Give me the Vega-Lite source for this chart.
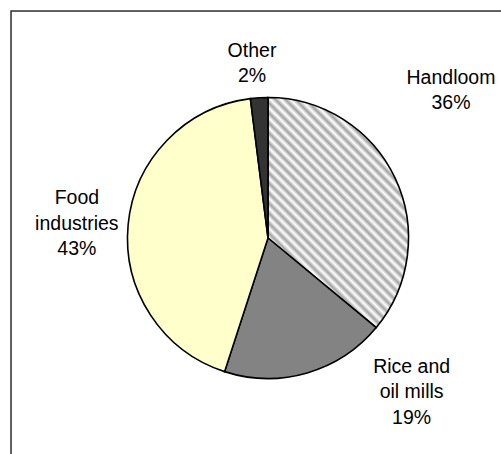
{
  "$schema": "https://vega.github.io/schema/vega-lite/v6.json",
  "width": 514,
  "height": 454,
  "autosize": "none",
  "padding": {"left": 11, "top": 11, "right": 0, "bottom": 0},
  "background": "white",
  "data": {
    "values": [
      {"name": "Handloom", "value": 36, "k": 1, "label": "Handloom\n36%"},
      {"name": "Rice and oil mills", "value": 19, "k": 2, "label": "Rice and\noil mills\n19%"},
      {"name": "Food industries", "value": 43, "k": 3, "label": "Food\nindustries\n43%"},
      {"name": "Other", "value": 2, "k": 4, "label": "Other\n2%"}
    ]
  },
  "layer": [
    {
      "data": {"values": [{"frame": 1}]},
      "mark": {"type": "rect", "fill": null, "stroke": "#333333", "strokeWidth": 1.5},
      "encoding": {
        "x": {"value": 0},
        "x2": {"value": "width"},
        "y": {"value": 0},
        "y2": {"value": "height"}
      }
    },
    {
      "encoding": {
        "theta": {"field": "value", "type": "quantitative", "stack": true},
        "order": {"field": "k", "type": "quantitative", "sort": "ascending"}
      },
      "layer": [
        {
          "mark": {"type": "arc", "outerRadius": 140.5, "stroke": "#000000", "strokeWidth": 1.6},
          "encoding": {
            "fill": {
              "condition": {
                "test": "datum.name === 'Handloom'",
                "value": {
                  "gradient": "linear", "x1": 0, "y1": 1, "x2": 0.718, "y2": -0.1726,
                  "stops": [
                    {"offset": 0, "color": "#ffffff"}, {"offset": 0.0135, "color": "#a2a2a2"},
                    {"offset": 0.027, "color": "#ffffff"}, {"offset": 0.0405, "color": "#a2a2a2"},
                    {"offset": 0.0541, "color": "#ffffff"}, {"offset": 0.0676, "color": "#a2a2a2"},
                    {"offset": 0.0811, "color": "#ffffff"}, {"offset": 0.0946, "color": "#a2a2a2"},
                    {"offset": 0.1081, "color": "#ffffff"}, {"offset": 0.1216, "color": "#a2a2a2"},
                    {"offset": 0.1351, "color": "#ffffff"}, {"offset": 0.1486, "color": "#a2a2a2"},
                    {"offset": 0.1622, "color": "#ffffff"}, {"offset": 0.1757, "color": "#a2a2a2"},
                    {"offset": 0.1892, "color": "#ffffff"}, {"offset": 0.2027, "color": "#a2a2a2"},
                    {"offset": 0.2162, "color": "#ffffff"}, {"offset": 0.2297, "color": "#a2a2a2"},
                    {"offset": 0.2432, "color": "#ffffff"}, {"offset": 0.2568, "color": "#a2a2a2"},
                    {"offset": 0.2703, "color": "#ffffff"}, {"offset": 0.2838, "color": "#a2a2a2"},
                    {"offset": 0.2973, "color": "#ffffff"}, {"offset": 0.3108, "color": "#a2a2a2"},
                    {"offset": 0.3243, "color": "#ffffff"}, {"offset": 0.3378, "color": "#a2a2a2"},
                    {"offset": 0.3514, "color": "#ffffff"}, {"offset": 0.3649, "color": "#a2a2a2"},
                    {"offset": 0.3784, "color": "#ffffff"}, {"offset": 0.3919, "color": "#a2a2a2"},
                    {"offset": 0.4054, "color": "#ffffff"}, {"offset": 0.4189, "color": "#a2a2a2"},
                    {"offset": 0.4324, "color": "#ffffff"}, {"offset": 0.4459, "color": "#a2a2a2"},
                    {"offset": 0.4595, "color": "#ffffff"}, {"offset": 0.473, "color": "#a2a2a2"},
                    {"offset": 0.4865, "color": "#ffffff"}, {"offset": 0.5, "color": "#a2a2a2"},
                    {"offset": 0.5135, "color": "#ffffff"}, {"offset": 0.527, "color": "#a2a2a2"},
                    {"offset": 0.5405, "color": "#ffffff"}, {"offset": 0.5541, "color": "#a2a2a2"},
                    {"offset": 0.5676, "color": "#ffffff"}, {"offset": 0.5811, "color": "#a2a2a2"},
                    {"offset": 0.5946, "color": "#ffffff"}, {"offset": 0.6081, "color": "#a2a2a2"},
                    {"offset": 0.6216, "color": "#ffffff"}, {"offset": 0.6351, "color": "#a2a2a2"},
                    {"offset": 0.6486, "color": "#ffffff"}, {"offset": 0.6622, "color": "#a2a2a2"},
                    {"offset": 0.6757, "color": "#ffffff"}, {"offset": 0.6892, "color": "#a2a2a2"},
                    {"offset": 0.7027, "color": "#ffffff"}, {"offset": 0.7162, "color": "#a2a2a2"},
                    {"offset": 0.7297, "color": "#ffffff"}, {"offset": 0.7432, "color": "#a2a2a2"},
                    {"offset": 0.7568, "color": "#ffffff"}, {"offset": 0.7703, "color": "#a2a2a2"},
                    {"offset": 0.7838, "color": "#ffffff"}, {"offset": 0.7973, "color": "#a2a2a2"},
                    {"offset": 0.8108, "color": "#ffffff"}, {"offset": 0.8243, "color": "#a2a2a2"},
                    {"offset": 0.8378, "color": "#ffffff"}, {"offset": 0.8514, "color": "#a2a2a2"},
                    {"offset": 0.8649, "color": "#ffffff"}, {"offset": 0.8784, "color": "#a2a2a2"},
                    {"offset": 0.8919, "color": "#ffffff"}, {"offset": 0.9054, "color": "#a2a2a2"},
                    {"offset": 0.9189, "color": "#ffffff"}, {"offset": 0.9324, "color": "#a2a2a2"},
                    {"offset": 0.9459, "color": "#ffffff"}, {"offset": 0.9595, "color": "#a2a2a2"},
                    {"offset": 0.973, "color": "#ffffff"}, {"offset": 0.9865, "color": "#a2a2a2"},
                    {"offset": 1, "color": "#ffffff"}
                  ]
                }
              },
              "field": "name",
              "type": "nominal",
              "scale": {
                "domain": ["Handloom", "Rice and oil mills", "Food industries", "Other"],
                "range": ["#d8d8d8", "#838383", "#ffffcc", "#333333"]
              },
              "legend": null
            }
          }
        },
        {
          "mark": {"type": "text", "radius": 175, "dx": -5, "dy": -12.5, "font": "Liberation Sans", "fontSize": 19.5, "lineHeight": 25.5, "lineBreak": "\n", "align": "center", "baseline": "middle", "color": "#000000"},
          "encoding": {"text": {"condition": {"test": "datum.name === 'Other'", "field": "label", "type": "nominal"}, "value": ""}}
        },
        {
          "mark": {"type": "text", "radius": 200, "dx": 2, "dy": -75, "font": "Liberation Sans", "fontSize": 19.5, "lineHeight": 25.5, "lineBreak": "\n", "align": "center", "baseline": "middle", "color": "#000000"},
          "encoding": {"text": {"condition": {"test": "datum.name === 'Handloom'", "field": "label", "type": "nominal"}, "value": ""}}
        },
        {
          "mark": {"type": "text", "radius": 191, "dx": -1, "dy": -22, "font": "Liberation Sans", "fontSize": 19.5, "lineHeight": 25.5, "lineBreak": "\n", "align": "center", "baseline": "middle", "color": "#000000"},
          "encoding": {"text": {"condition": {"test": "datum.name === 'Food industries'", "field": "label", "type": "nominal"}, "value": ""}}
        },
        {
          "mark": {"type": "text", "radius": 160, "dx": 99, "dy": -25, "font": "Liberation Sans", "fontSize": 19.5, "lineHeight": 25.5, "lineBreak": "\n", "align": "center", "baseline": "middle", "color": "#000000"},
          "encoding": {"text": {"condition": {"test": "datum.name === 'Rice and oil mills'", "field": "label", "type": "nominal"}, "value": ""}}
        }
      ]
    }
  ]
}
